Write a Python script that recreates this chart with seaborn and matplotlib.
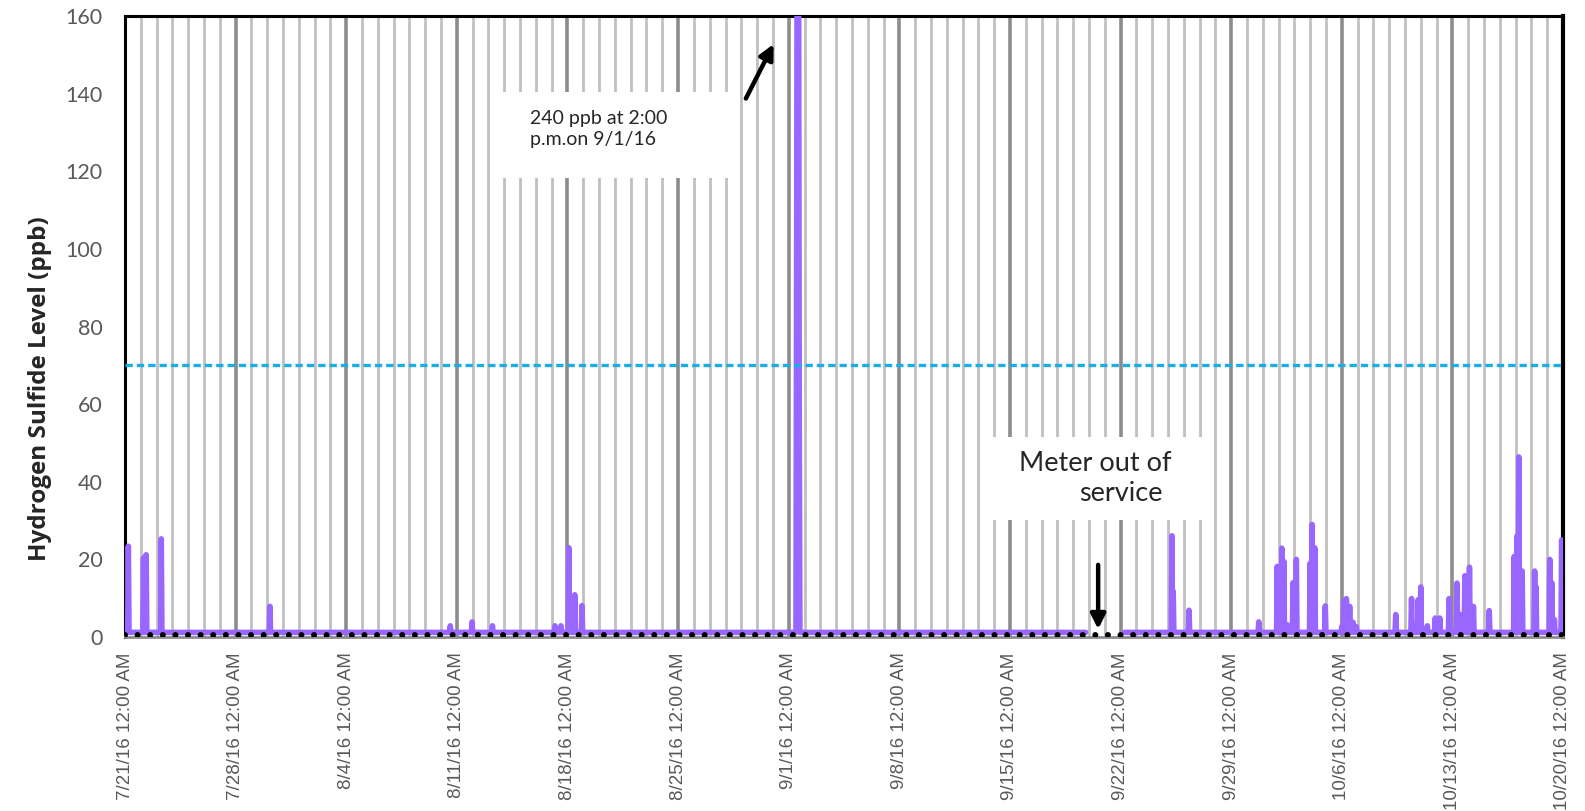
import numpy as np
import pandas as pd
import matplotlib
matplotlib.use("Agg")
import matplotlib.pyplot as plt
import matplotlib.dates as mdates
from matplotlib.patches import Rectangle
import seaborn as sns

# Hourly H2S readings: a flat baseline with spikes
start_time = "2016-07-21 00:00"
end_time = "2016-10-20 00:00"
baseline_level = 1.2
detection_level = 0.5
threshold_level = 70
gap_start = "2016-09-19 19:00"   # meter out of service
gap_end = "2016-09-22 06:00"

spike_times = [
    "2016-07-21 05:00", "2016-07-22 04:00", "2016-07-22 08:00", "2016-07-23 07:00",
    "2016-07-30 04:00", "2016-08-10 14:00", "2016-08-11 23:00", "2016-08-13 06:00",
    "2016-08-17 05:00", "2016-08-17 14:00", "2016-08-18 02:00", "2016-08-18 11:00",
    "2016-08-18 22:00", "2016-09-01 12:00", "2016-09-01 13:00", "2016-09-01 14:00",
    "2016-09-01 15:00", "2016-09-01 16:00", "2016-09-25 06:00", "2016-09-25 08:00",
    "2016-09-26 08:00", "2016-09-30 18:00", "2016-10-01 22:00", "2016-10-02 05:00",
    "2016-10-02 08:00", "2016-10-02 13:00", "2016-10-02 22:00", "2016-10-03 03:00",
    "2016-10-04 00:00", "2016-10-04 03:00", "2016-10-04 07:00", "2016-10-04 23:00",
    "2016-10-06 00:00", "2016-10-06 03:00", "2016-10-06 07:00", "2016-10-06 12:00",
    "2016-10-06 17:00", "2016-10-06 22:00", "2016-10-09 10:00", "2016-10-10 10:00",
    "2016-10-10 20:00", "2016-10-11 00:00", "2016-10-11 10:00", "2016-10-11 22:00",
    "2016-10-12 05:00", "2016-10-12 19:00", "2016-10-13 07:00", "2016-10-13 12:00",
    "2016-10-13 19:00", "2016-10-14 02:00", "2016-10-14 08:00", "2016-10-15 08:00",
    "2016-10-16 22:00", "2016-10-17 02:00", "2016-10-17 05:00", "2016-10-17 10:00",
    "2016-10-18 05:00", "2016-10-18 07:00", "2016-10-19 04:00", "2016-10-19 07:00",
    "2016-10-19 11:00", "2016-10-19 22:00",
]
spike_values = [
    23.4, 20.4, 21.2, 25.3,
    7.9, 2.9, 3.9, 2.9,
    2.9, 2.9, 23.0, 10.9,
    8.1, 90, 200, 240,
    180, 60, 26.1, 11.8,
    6.9, 3.9, 18.2, 22.9,
    19.5, 3.2, 14.0, 20.0,
    19.0, 29.0, 23.0, 8.0,
    2.7, 9.2, 9.9, 7.9,
    3.8, 2.7, 5.8, 9.9,
    9.6, 12.9, 2.9, 4.9,
    4.9, 9.9, 13.9, 5.8,
    15.8, 18.0, 7.9, 6.8,
    20.8, 26.0, 46.4, 17.0,
    17.0, 13.0, 20.0, 14.0,
    4.5, 25.0,
]

y_ticks = [0, 20, 40, 60, 80, 100, 120, 140, 160]

times = pd.date_range(start_time, end_time, freq="h")
level = pd.Series(baseline_level, index=times)
level[pd.to_datetime(spike_times)] = spike_values
before = level[:pd.Timestamp(gap_start)]
after = level[pd.Timestamp(gap_end):]

sns.set_style("white")
fig = plt.figure(figsize=(15.85, 8.11), dpi=100)
ax = fig.add_axes([0.0789, 0.2145, 0.9072, 0.7658])

purple = "#9966ff"
for part in (before, after):
    sns.lineplot(x=part.index, y=part.values, ax=ax, color=purple, linewidth=4.0,
                 solid_capstyle="round", solid_joinstyle="round", zorder=3)

ax.axhline(threshold_level, color="#1aaee5", linewidth=2.4, linestyle=(0, (2.2, 1.2)), zorder=3)
ax.axhline(detection_level, color="black", linewidth=4.3, linestyle=(0, (0.01, 2.1)),
           dash_capstyle="round", zorder=4)

ax.set_xlim(pd.Timestamp(start_time), pd.Timestamp(end_time))
ax.set_ylim(0, 160)
ax.set_yticks(y_ticks)

ax.xaxis.set_minor_locator(mdates.DayLocator())
week_ticks = pd.date_range(start_time, end_time, freq="7D")
ax.set_xticks(week_ticks)
ax.set_xticklabels([f"{d.month}/{d.day}/{d.strftime('%y')} 12:00 AM" for d in week_ticks],
                   rotation=90, fontsize=13.5, color="#595959", family="Liberation Sans")
ax.tick_params(axis="y", labelsize=15.5, labelcolor="#595959", length=0, pad=16)
for lab in ax.get_yticklabels():
    lab.set_family("Lato")
ax.tick_params(axis="x", which="major", length=5, width=1.5, color="#bfbfbf", pad=6)
ax.tick_params(axis="x", which="minor", length=0)

ax.grid(False)
ax.grid(True, axis="x", which="minor", color="#c0c0c0", linewidth=2.0, zorder=0)
ax.grid(True, axis="x", which="major", color="#8c8c8c", linewidth=2.6, zorder=0)
ax.set_axisbelow(True)

for side in ("left", "top", "right"):
    ax.spines[side].set_color("black")
    ax.spines[side].set_linewidth(2.2)
ax.spines["right"].set_linewidth(3.0)
ax.spines["bottom"].set_color("#8c8c8c")
ax.spines["bottom"].set_linewidth(2.0)

ax.set_ylabel("Hydrogen Sulfide Level (ppb)", fontsize=17.5, fontweight="bold",
              family="Open Sans")
ax.yaxis.set_label_coords(-0.051, 0.40)
ax.set_xlabel("")

# annotation boxes
d = mdates.date2num
box1 = Rectangle((d(pd.Timestamp("2016-08-13 22:00")), 118.3),
                 d(pd.Timestamp("2016-08-28 22:00")) - d(pd.Timestamp("2016-08-13 22:00")), 22,
                 facecolor="white", edgecolor="none", zorder=1)
ax.add_patch(box1)
ax.text(pd.Timestamp("2016-08-15 15:00"), 130.8, "240 ppb at 2:00\np.m.on 9/1/16",
        fontsize=14, family="Lato", va="center", ha="left", linespacing=1.3, zorder=5)
ax.annotate("", xy=(pd.Timestamp("2016-08-31 03:00"), 153.4),
            xytext=(pd.Timestamp("2016-08-29 05:00"), 138.1),
            arrowprops=dict(arrowstyle="-|>", color="black", lw=3.2, mutation_scale=22),
            zorder=6)

box2 = Rectangle((d(pd.Timestamp("2016-09-13 19:00")), 30.2),
                 d(pd.Timestamp("2016-09-27 04:00")) - d(pd.Timestamp("2016-09-13 19:00")), 21.3,
                 facecolor="white", edgecolor="none", zorder=1)
ax.add_patch(box2)
ax.text(pd.Timestamp("2016-09-20 10:00"), 44.8, "Meter out of", fontsize=19.5,
        family="Lato", va="center", ha="center", zorder=5)
ax.text(pd.Timestamp("2016-09-22 00:00"), 36.9, "service", fontsize=19.5,
        family="Lato", va="center", ha="center", zorder=5)
ax.annotate("", xy=(pd.Timestamp("2016-09-20 14:00"), 1.3),
            xytext=(pd.Timestamp("2016-09-20 14:00"), 19.3),
            arrowprops=dict(arrowstyle="-|>", color="black", lw=3.2, mutation_scale=22),
            zorder=6)

fig.savefig("out.png", dpi=100)
